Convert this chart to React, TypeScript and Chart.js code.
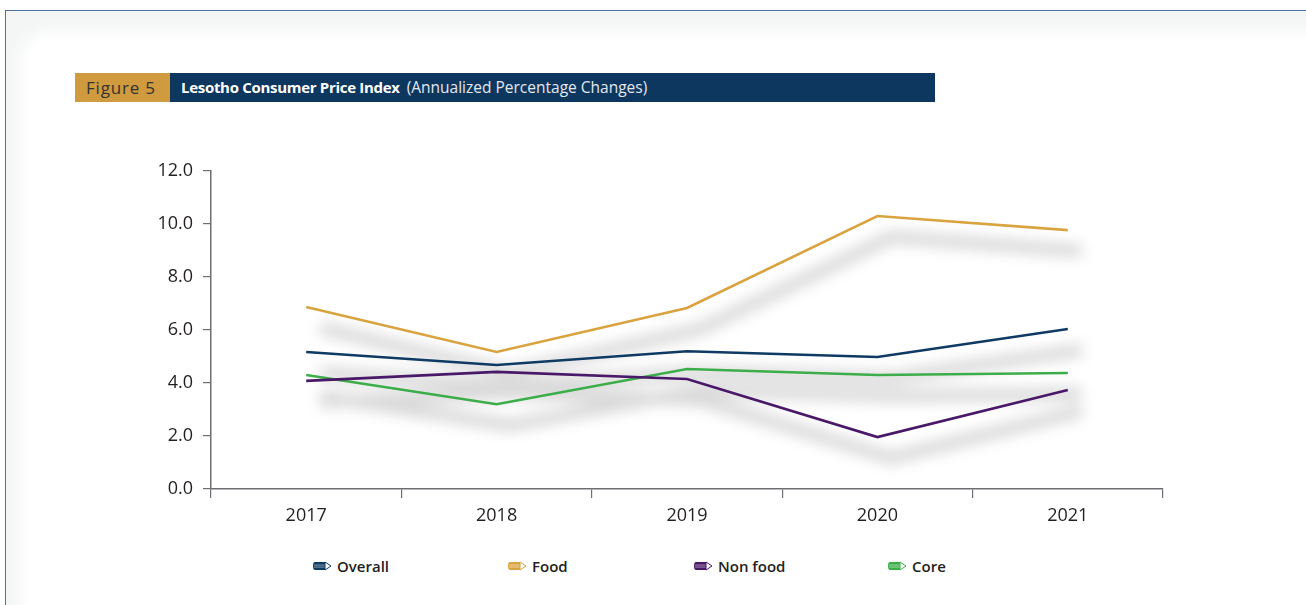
import React, { useEffect, useRef } from "react";
import { Chart, registerables } from "chart.js";

Chart.register(...registerables);

const years = ["2017", "2018", "2019", "2020", "2021"];
const overall = [5.17, 4.68, 5.2, 4.98, 6.04];
const food = [6.87, 5.17, 6.83, 10.3, 9.77];
const nonFood = [4.08, 4.42, 4.15, 1.96, 3.74];
const core = [4.3, 3.2, 4.53, 4.3, 4.38];
const seriesNames = ["Overall", "Food", "Non food", "Core"];
const seriesColors = ["#0f3a63", "#d9a340", "#4a1868", "#3cad48"];

const FONT = "'Open Sans', 'Noto Sans', sans-serif";
const AXIS = "#6d6e71";

const shadowPlugin = {
  id: "lineShadow",
  beforeDatasetsDraw(chart: any) {
    const ctx = chart.ctx as CanvasRenderingContext2D;
    ctx.save();
    ctx.filter = "blur(7px)";
    ctx.strokeStyle = "rgba(0,0,0,0.15)";
    ctx.lineWidth = 13;
    ctx.lineJoin = "round";
    ctx.beginPath();
    chart.data.datasets.forEach((_: any, i: number) => {
      const meta = chart.getDatasetMeta(i);
      meta.data.forEach((pt: any, j: number) => {
        const x = pt.x + 14;
        const y = pt.y + 21;
        if (j === 0) ctx.moveTo(x, y);
        else ctx.lineTo(x, y);
      });
    });
    ctx.stroke();
    ctx.restore();
  },
};

function PencilIcon({ color }: { color: string }) {
  return (
    <svg width="19" height="10" viewBox="0 0 19 10" style={{ display: "block" }}>
      <path d="M2 1 H12 V9 H2 Q0 9 0 5 Q0 1 2 1 Z" fill={color} />
      <rect x="1" y="3.6" width="11" height="0.9" fill="rgba(255,255,255,0.55)" />
      <rect x="1" y="5.6" width="11" height="0.9" fill="rgba(255,255,255,0.55)" />
      <path d="M12 1 L18 5 L12 9 Z" fill="#fff" stroke={color} strokeWidth="1" strokeLinejoin="round" />
    </svg>
  );
}

export default function App() {
  const canvasRef = useRef<HTMLCanvasElement | null>(null);

  useEffect(() => {
    const canvas = canvasRef.current;
    if (!canvas) return;
    const seriesData = [overall, food, nonFood, core];
    const chart = new Chart(canvas, {
      type: "line",
      data: {
        labels: years,
        datasets: seriesData.map((d, i) => ({
          label: seriesNames[i],
          data: d,
          borderColor: seriesColors[i],
          backgroundColor: seriesColors[i],
          borderWidth: 2.6,
          pointRadius: 0,
          tension: 0,
          fill: false,
        })),
      },
      options: {
        responsive: false,
        animation: false,
        events: [],
        layout: { padding: { left: 0, right: 37, top: 21, bottom: 0 } },
        plugins: {
          legend: { display: false },
          tooltip: { enabled: false },
          title: { display: false },
        },
        scales: {
          x: {
            type: "category",
            offset: true,
            grid: {
              offset: true,
              drawOnChartArea: false,
              drawTicks: true,
              tickLength: 9,
              color: AXIS,
              lineWidth: 1.2,
            },
            border: { display: true, color: AXIS, width: 1.5 },
            ticks: {
              color: "#231f20",
              font: { family: FONT, size: 18 },
              padding: 7,
              maxRotation: 0,
            },
            afterFit: (s: any) => {
              s.height = 41;
            },
          },
          y: {
            min: 0,
            max: 12,
            grid: {
              drawOnChartArea: false,
              drawTicks: true,
              tickLength: 8,
              color: AXIS,
              lineWidth: 1.2,
            },
            border: { display: true, color: AXIS, width: 1.5 },
            ticks: {
              stepSize: 2,
              color: "#231f20",
              font: { family: FONT, size: 18 },
              padding: 10,
              callback: (v: any) => Number(v).toFixed(1),
            },
            afterFit: (s: any) => {
              s.width = 111;
            },
          },
        },
      },
      plugins: [shadowPlugin],
    } as any);
    return () => chart.destroy();
  }, []);

  const legendLefts = [313, 508, 694, 888];

  return (
    <div
      style={{
        position: "fixed",
        left: 0,
        top: 0,
        width: 1306,
        height: 605,
        overflow: "hidden",
        background: "#fff",
        fontFamily: FONT,
      }}
    >
      <div
        style={{
          position: "absolute",
          left: 5,
          top: 10,
          width: 1400,
          height: 700,
          borderTop: "1.5px solid #4f719b",
          borderLeft: "1.5px solid #4f719b",
          background: "#f4f5f5",
          overflow: "hidden",
        }}
      >
        <div
          style={{
            position: "absolute",
            left: 24,
            top: 30,
            width: 1500,
            height: 800,
            background: "#fff",
            borderRadius: 18,
            boxShadow: "0 0 16px 10px #fff",
          }}
        />
      </div>

      <div
        style={{
          position: "absolute",
          left: 75,
          top: 73,
          width: 95,
          height: 29,
          background: "#d09a3e",
          color: "#333",
          fontSize: 17,
          letterSpacing: "0.8px",
          lineHeight: "29px",
          paddingLeft: 11,
          boxSizing: "border-box",
          whiteSpace: "nowrap",
        }}
      >
        Figure 5
      </div>
      <div
        style={{
          position: "absolute",
          left: 170,
          top: 73,
          width: 765,
          height: 29,
          background: "#0e3760",
          color: "#fff",
          lineHeight: "29px",
          paddingLeft: 11,
          boxSizing: "border-box",
          whiteSpace: "nowrap",
        }}
      >
        <span style={{ fontWeight: 700, fontSize: 15, letterSpacing: "-0.3px" }}>
          Lesotho Consumer Price Index
        </span>
        <span style={{ fontWeight: 400, fontSize: 15.5, color: "#e4e8ee", marginLeft: 7 }}>
          (Annualized Percentage Changes)
        </span>
      </div>

      <canvas
        ref={canvasRef}
        width={1100}
        height={380}
        style={{ position: "absolute", left: 100, top: 150, width: 1100, height: 380 }}
      />

      {seriesNames.map((name, i) => (
        <div
          key={name}
          style={{
            position: "absolute",
            left: legendLefts[i],
            top: 555,
            height: 22,
            display: "flex",
            alignItems: "center",
            gap: 5,
            fontSize: 15,
            fontWeight: 600,
            color: "#231f20",
            whiteSpace: "nowrap",
          }}
        >
          <PencilIcon color={seriesColors[i]} />
          <span>{name}</span>
        </div>
      ))}
    </div>
  );
}
